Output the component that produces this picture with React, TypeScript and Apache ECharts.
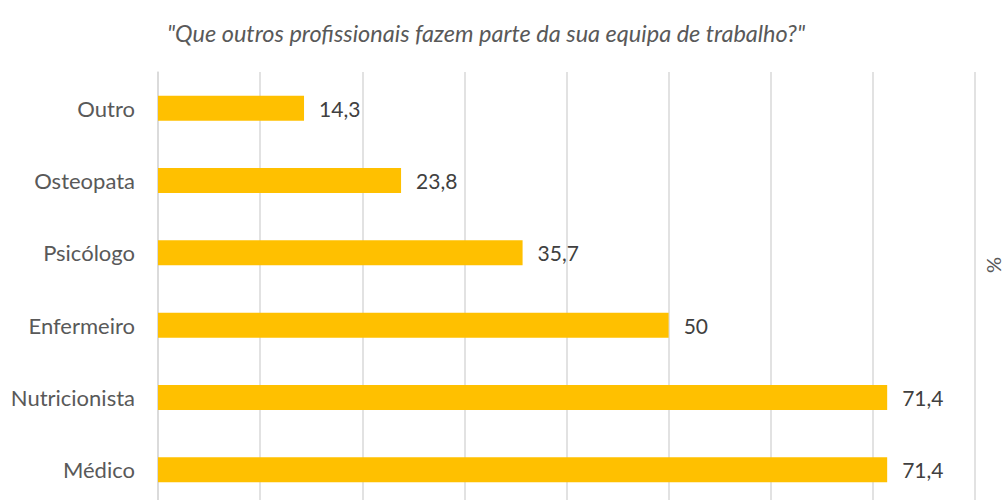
import React, { useEffect, useRef } from "react";
import * as echarts from "echarts";

const categories = ["Médico", "Nutricionista", "Enfermeiro", "Psicólogo", "Osteopata", "Outro"];
const values = [71.4, 71.4, 50, 35.7, 23.8, 14.3];
const titleText = '"Que outros profissionais fazem parte da sua equipa de trabalho?"';
const axisName = "%";

const FONT = "Lato";

export default function App() {
  const ref = useRef<HTMLDivElement>(null);
  useEffect(() => {
    const chart = echarts.init(ref.current!, null, { renderer: "svg" });
    chart.setOption({
      animation: false,
      backgroundColor: "#ffffff",
      title: {
        text: titleText,
        left: 481,
        top: 16,
        textAlign: "center",
        textStyle: {
          fontFamily: FONT,
          fontStyle: "italic",
          fontWeight: "normal",
          fontSize: 23.5,
          color: "#595959",
        },
      },
      graphic: [
        {
          type: "text",
          x: 993,
          y: 265,
          rotation: Math.PI / 2,
          style: {
            text: axisName,
            fontFamily: FONT,
            fontSize: 20,
            fill: "#595959",
            textAlign: "center",
            textVerticalAlign: "middle",
          },
        },
      ],
      grid: {
        left: 158,
        top: 72,
        width: 817,
        height: 434,
        containLabel: false,
        outerBoundsMode: "none",
      },
      xAxis: {
        type: "value",
        min: 0,
        max: 80,
        interval: 10,
        axisLabel: { show: false },
        axisLine: { show: false },
        axisTick: { show: false },
        splitLine: { lineStyle: { color: "#d9d9d9", width: 1.5 } },
      },
      yAxis: {
        type: "category",
        data: categories,
        axisLine: { show: true, lineStyle: { color: "#d9d9d9", width: 1.5 } },
        axisTick: { show: false },
        axisLabel: {
          margin: 23,
          fontFamily: FONT,
          fontSize: 22,
          color: "#595959",
        },
      },
      series: [
        {
          type: "bar",
          data: values,
          barWidth: 25,
          itemStyle: { color: "#FFC000" },
          label: {
            show: true,
            position: "right",
            distance: 15,
            fontFamily: FONT,
            fontSize: 21,
            color: "#404040",
            formatter: (p: any) => String(p.value).replace(".", ","),
          },
        },
      ],
    });
    return () => chart.dispose();
  }, []);
  return (
    <div
      ref={ref}
      style={{ position: "absolute", left: 0, top: 0, width: 1005, height: 500 }}
    />
  );
}
